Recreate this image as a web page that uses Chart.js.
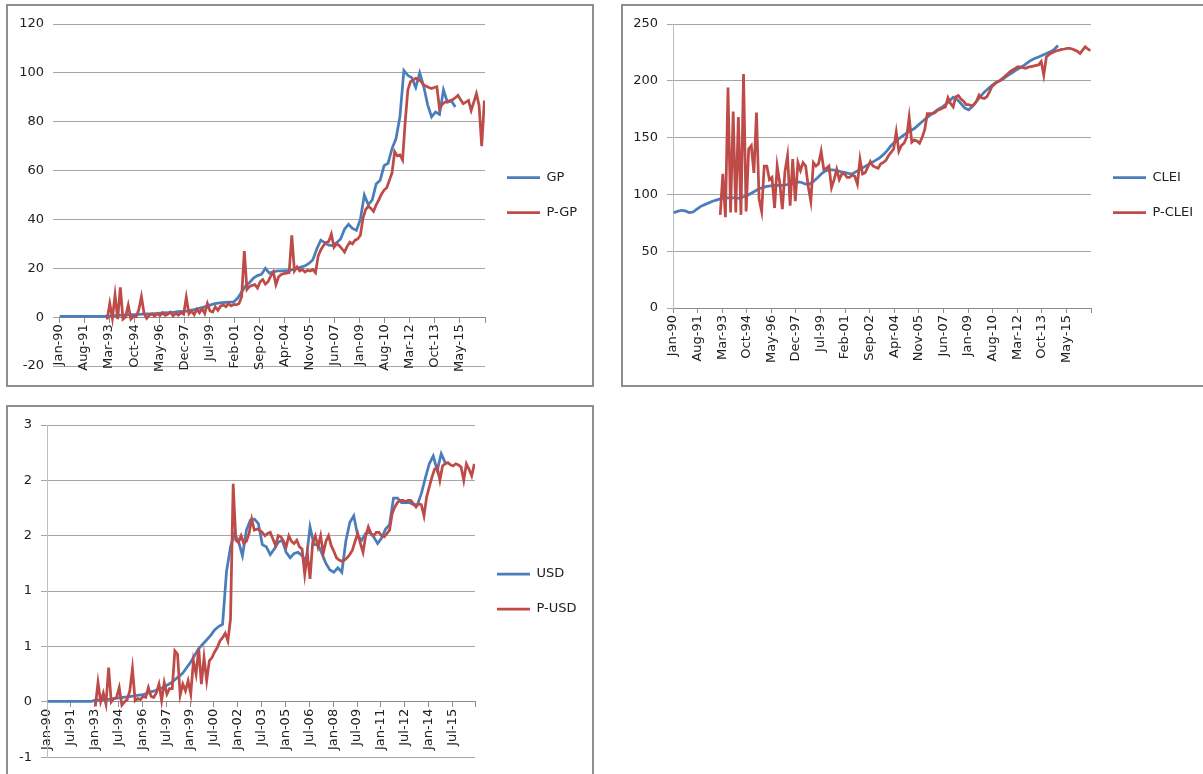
<!DOCTYPE html>
<html>
<head>
<meta charset="utf-8">
<script src="https://cdn.jsdelivr.net/npm/chart.js@4.4.1/dist/chart.umd.min.js"></script>
<style>
  body { margin: 0; background: #fff; width: 1203px; height: 774px; overflow: hidden; position: relative; }
  .box { position: absolute; border: 2px solid #8e8e8e; box-sizing: border-box; }
  canvas { position: absolute; }
</style>
</head>
<body>
<div class="box" style="left:6px;top:4px;width:588px;height:383px"></div>
<div class="box" style="left:621px;top:4px;width:600px;height:383px"></div>
<div class="box" style="left:6px;top:405px;width:588px;height:420px"></div>
<canvas id="gpChart" width="584" height="378" style="left:8px;top:6px"></canvas>
<canvas id="cleiChart" width="580" height="378" style="left:623px;top:6px"></canvas>
<canvas id="usdChart" width="584" height="367" style="left:8px;top:407px"></canvas>
<script>
// monthly series Jan-90 .. Nov-16 (323 months)
const monthCount = 323;
const blueStep = 3;   // actual series read every 3 months from month 0
const redStep = 2;    // P- series read every 2 months
const redStart = 36;  // P- series start Jan-93

const gpTicks = ['Jan-90','Aug-91','Mar-93','Oct-94','May-96','Dec-97','Jul-99','Feb-01','Sep-02',
  'Apr-04','Nov-05','Jun-07','Jan-09','Aug-10','Mar-12','Oct-13','May-15'];
const cleiTicks = gpTicks;
const usdTicks = ['Jan-90','Jul-91','Jan-93','Jul-94','Jan-96','Jul-97','Jan-99','Jul-00','Jan-02',
  'Jul-03','Jan-05','Jul-06','Jan-08','Jul-09','Jan-11','Jul-12','Jan-14','Jul-15'];

const gp = [0.3,0.3,0.3,0.3,0.3,0.3,0.3,0.3,0.3,0.3,0.3,0.3,
  0.4,0.5,0.6,0.7,0.8,0.9,1.0,1.0,1.1,1.2,
  1.3,1.3,1.4,1.5,1.7,1.8,2.0,2.1,2.3,2.4,
  2.5,2.8,3.1,3.5,3.9,4.4,4.9,5.4,5.7,5.9,
  6.0,6.1,6.2,7.8,10.3,12.8,14.2,16,17,17.5,
  20,18,18.5,18.9,18.9,19,19,19.5,20,20.5,
  21,22,23.5,28,31.5,30.5,29.5,29.3,30.5,32,
  36,38,36.3,35.5,40,50,46,48,54.5,56,
  62,63,69,73,82,101,99,98,94,100,
  94.5,87,82,84,83,93,88,88.5,86];
const pGp = [-1.0,5.6,-0.5,9.1,-0.8,12.2,-0.8,0.2,4.9,-0.8,
  0.3,0.2,3.0,8.4,1.5,-0.5,0.8,1.3,0.4,1.5,
  0.6,1.8,0.7,1.2,2.0,0.5,1.6,0.8,1.9,1.2,
  8.1,1.4,2.5,1.0,3.2,1.8,3.5,1.5,5.6,2.5,
  2.1,4.2,2.8,4.5,5.0,4.3,5.5,4.6,5.2,5.0,
  5.6,8.4,27,11.3,12.6,13.0,13.3,11.9,14.5,15.4,
  13.5,14.5,16.8,18.5,13.3,16.5,17.5,17.8,18.0,18.2,
  33.5,18.9,20.5,18.9,19.5,18.5,19.2,18.9,19.5,18.2,
  25,27.5,29.3,30.5,31,34,28.6,30,29.3,28,
  26.6,29,30.7,30,31.5,32,33.5,40.5,44,45.4,
  44.5,43.3,46,48,50.3,52,53,56,59,67.8,
  66,66.4,64.3,80,93,96.4,97,97.8,97.3,96.5,
  95,94.5,94,93.6,94,94.3,85.3,87,88,88.3,
  88.7,89,89.8,90.8,89,87.4,88,88.7,84.6,88,
  91.5,86.7,70,88.7];

const clei = [84,85,86,85.5,84,84.5,87,89.5,91,92.5,
  94,95,96,97,97,97,97,96.5,98,99,
  101,103,105,106,107,107.5,108,108,108,108.5,
  109,110,111,110.5,109,109,111.5,114.5,118,120.5,
  121.5,121.5,121,120,119.5,118.5,118,120,122,124,
  126,128,130,132,135,138.5,143,146,149,151.5,
  154,156,158,161,164,167,169.5,172,174.5,176.5,
  179,182,185.5,183.5,180,176,174.5,177.5,182,186,
  190,193,196,198.5,200,202,204.5,206.5,209,211,
  213,215.5,218,219.7,221,222.5,224,225.5,227.5,231];
const pClei = [82,118,80,194,84,173,84,168,82,206,
  85,140,143,119,172,96,85,125,125,113,
  115,88,125,110,87,120,134,90,131,94,
  128,121,128,125,107,94,128,125,127,138,
  122,123,125,106,113,122,113,118,118,115,
  115,117,116,109,131,118,119,124,129,125,
  124,123,127,128,130,134,137,140,155,138,
  143,145,150,168,146,148,147,145,150,157,
  171,171,171,172,174,175,176,177,185,180,
  177,186,187,184,182,179,179,178,179,182,
  187.5,185,184.5,186,190,195,197,199,200,202,
  204,206,208,209.5,211,212.5,212,211.5,211,212,
  212.5,213,213.5,214,217,205,221,223,224.5,225.5,
  226.5,227,227.7,228,228.5,228.6,228,227,226,224,
  227,230,228,226.5];

const usd = [0.005,0.005,0.005,0.005,0.005,0.005,0.005,0.005,0.005,0.005,0.005,0.005,
  0.015,0.018,0.02,0.022,0.024,0.03,0.035,0.04,0.045,0.05,
  0.055,0.06,0.065,0.075,0.09,0.1,0.115,0.13,0.15,0.17,
  0.2,0.23,0.26,0.31,0.36,0.42,0.48,0.52,0.56,0.6,
  0.65,0.68,0.7,1.18,1.4,1.52,1.45,1.32,1.55,1.64,
  1.65,1.61,1.42,1.4,1.33,1.38,1.44,1.46,1.35,1.3,
  1.34,1.35,1.32,1.27,1.58,1.42,1.42,1.34,1.25,1.19,
  1.17,1.21,1.17,1.45,1.62,1.68,1.5,1.46,1.52,1.53,
  1.49,1.43,1.48,1.56,1.6,1.84,1.84,1.8,1.8,1.8,
  1.78,1.78,1.88,2.02,2.15,2.22,2.09,2.24,2.16];
const pUsd = [-0.04,0.175,0.0,0.08,-0.02,0.31,0.0,0.03,0.04,0.13,
  -0.03,0.0,0.02,0.1,0.3,0.01,0.03,0.02,0.05,0.04,
  0.13,0.05,0.04,0.08,0.16,0.01,0.175,0.07,0.12,0.12,
  0.46,0.43,0.06,0.16,0.1,0.19,0.07,0.37,0.25,0.48,
  0.16,0.4,0.19,0.37,0.4,0.45,0.49,0.55,0.58,0.62,
  0.55,0.75,1.97,1.46,1.44,1.5,1.43,1.45,1.52,1.65,
  1.55,1.56,1.55,1.53,1.5,1.52,1.53,1.47,1.41,1.5,
  1.49,1.45,1.4,1.5,1.45,1.43,1.46,1.4,1.38,1.15,
  1.34,1.11,1.44,1.5,1.4,1.5,1.34,1.45,1.5,1.41,
  1.36,1.3,1.28,1.27,1.28,1.3,1.33,1.37,1.45,1.52,
  1.43,1.35,1.5,1.58,1.52,1.5,1.53,1.53,1.5,1.49,
  1.52,1.55,1.7,1.76,1.8,1.82,1.82,1.81,1.82,1.82,
  1.79,1.76,1.79,1.78,1.68,1.85,1.94,2.03,2.1,2.12,
  2.0,2.13,2.15,2.16,2.14,2.13,2.15,2.14,2.12,2.0,
  2.15,2.1,2.04,2.15];

const BLUE = '#4a7ebb';
const RED = '#be4b48';
const GRID = '#a6a6a6';
const LINE_W = 2.75;
const LEGEND_PAD = 22;
const LEGEND_BOX = 33;

Chart.defaults.font.family = 'DejaVu Sans';
Chart.defaults.font.size = 13;
Chart.defaults.color = '#222';

function toPoints(values, start, step) {
  return values.map((v, i) => ({ x: start + i * step + 0.5, y: v }));
}

// Excel "0" number format rounds halves away from zero
function excelRound(v) {
  const r = Math.sign(v) * Math.round(Math.abs(v));
  return r === 0 ? '0' : String(r);
}

// legend width that fits the longest name, so the plot's right edge can be placed exactly
function legendCap(names) {
  const c = document.createElement('canvas').getContext('2d');
  c.font = '13px DejaVu Sans';
  const w = Math.max(...names.map(t => c.measureText(t).width));
  return Math.ceil(LEGEND_PAD + LEGEND_BOX + 6.5 + w + 5);
}

function drawChart(id, o) {
  const canvas = document.getElementById(id);
  const cap = legendCap(o.names);
  const padRight = canvas.width - o.plotRight - cap;
  return new Chart(canvas.getContext('2d'), {
    type: 'line',
    data: {
      datasets: [
        { label: o.names[0], data: toPoints(o.blue, 0, blueStep), borderColor: BLUE, backgroundColor: BLUE, order: 1 },
        { label: o.names[1], data: toPoints(o.red, redStart, redStep), borderColor: RED, backgroundColor: RED, order: 0 }
      ]
    },
    options: {
      responsive: false,
      animation: false,
      events: [],
      elements: {
        point: { radius: 0, borderWidth: LINE_W },
        line: { borderWidth: LINE_W, tension: 0 }
      },
      layout: { padding: { top: 18, bottom: o.padBottom, left: 0, right: padRight } },
      plugins: {
        legend: {
          position: 'right',
          maxWidth: cap,
          labels: {
            usePointStyle: true, pointStyle: 'line', pointStyleWidth: LEGEND_BOX, padding: LEGEND_PAD,
            sort: (a, b) => a.datasetIndex - b.datasetIndex
          }
        },
        tooltip: { enabled: false }
      },
      scales: {
        x: {
          type: 'linear',
          position: o.xPos,
          min: 0,
          max: monthCount,
          afterFit: s => { s.height = o.xHeight; },
          grid: { drawOnChartArea: false, tickLength: 5, color: '#8c8c8c' },
          border: { color: '#8c8c8c' },
          ticks: {
            stepSize: o.tickStep, autoSkip: false, minRotation: 90, maxRotation: 90, padding: 2,
            callback: v => o.tickLabels[Math.round(v / o.tickStep)] || ''
          }
        },
        y: {
          min: o.yMin,
          max: o.yMax,
          afterFit: s => { s.width = o.yWidth; },
          grid: { color: GRID, tickLength: 6 },
          border: { display: o.yBorder, color: '#bdbdbd' },
          ticks: { stepSize: o.yStep, padding: 9, callback: o.yFormat || (v => v) }
        }
      }
    }
  });
}

drawChart('gpChart', {
  names: ['GP', 'P-GP'], blue: gp, red: pGp,
  tickLabels: gpTicks, tickStep: 19, xPos: { y: 0 },
  yMin: -20, yMax: 120, yStep: 20, yWidth: 51, yBorder: false,
  xHeight: 8, padBottom: 18, plotRight: 477
});

drawChart('cleiChart', {
  names: ['CLEI', 'P-CLEI'], blue: clei, red: pClei,
  tickLabels: cleiTicks, tickStep: 19, xPos: 'bottom',
  yMin: 0, yMax: 250, yStep: 50, yWidth: 50, yBorder: true,
  xHeight: 58, padBottom: 18, plotRight: 468
});

drawChart('usdChart', {
  names: ['USD', 'P-USD'], blue: usd, red: pUsd,
  tickLabels: usdTicks, tickStep: 18, xPos: { y: 0 },
  yMin: -0.5, yMax: 2.5, yStep: 0.5, yWidth: 39, yBorder: true, yFormat: excelRound,
  xHeight: 1, padBottom: 16, plotRight: 467
});
</script>
</body>
</html>
